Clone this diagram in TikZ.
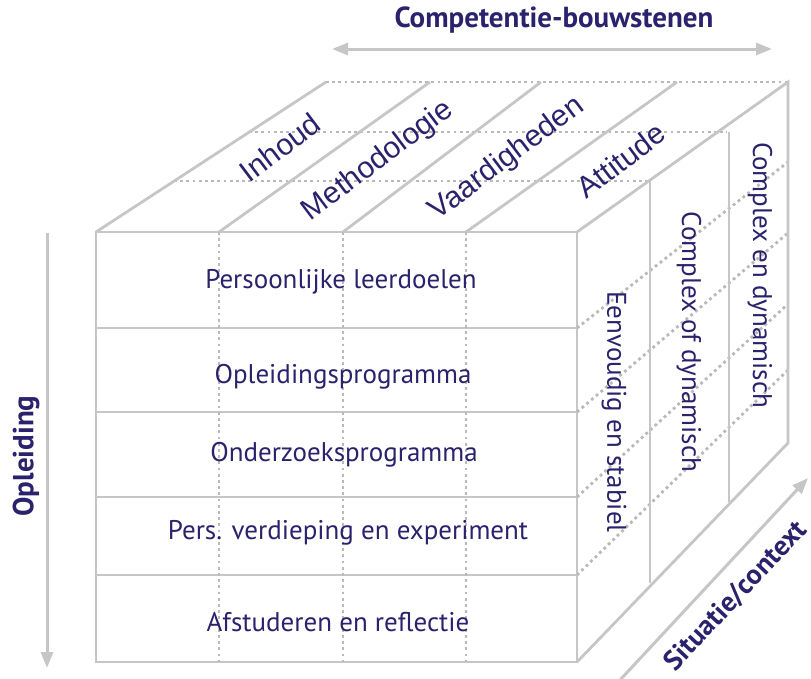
\documentclass[tikz,border=0pt]{standalone}
\usepackage{fontspec}
\setmainfont{PT Sans}
\newfontfamily\facetfont{Liberation Sans}
\usetikzlibrary{arrows.meta}
\definecolor{ink}{RGB}{42,34,108}
\definecolor{rimgray}{RGB}{198,198,198}
\definecolor{dotgray}{RGB}{185,185,185}

\begin{document}
\begin{tikzpicture}[x=1pt, y=-1pt,
    rim/.style={draw=rimgray, line width=2.8pt, line join=miter},
    dots/.style={draw=dotgray, line width=2.8pt, dash pattern=on 2.8pt off 3.4pt},
    rowlabel/.style={font=\fontsize{27}{32}\selectfont, text=ink, inner sep=1pt},
    sidelabel/.style={rowlabel, rotate=-90},
    facet/.style={font=\facetfont\fontsize{30}{34}\selectfont, text=ink, rotate=37, inner sep=1pt},
    axis/.style={font=\bfseries\fontsize{29}{34}\selectfont, text=ink, inner sep=1pt},
    arr/.style={draw=rimgray, line width=3pt, -{Triangle[length=16pt, width=12pt]}}
  ]
  \useasboundingbox (0,0) rectangle (811,678);

  % front face
  \draw[rim] (96,232) rectangle (577,662);
  \foreach \y in {328,412,497,575}
    \draw[rim] (96,\y) -- (577,\y);
  \foreach \x in {219,343,466}
    \draw[dots] (\x,232) -- (\x,662);

  % top face
  \draw[dots] (326,82) -- (788,82);
  \draw[dots] (249,132) -- (727,132);
  \draw[dots] (174,181) -- (650,181);
  \draw[rim] (96,232) -- (326,82);
  \draw[rim] (219,232) -- (430,82);
  \draw[rim] (343,232) -- (541,82);
  \draw[rim] (466,232) -- (677,82);

  % right face
  \foreach \yf/\yb in {328/162,412/233,497/304,575/370}
    \draw[dots] (577,\yf) -- (788,\yb);
  \draw[rim] (650,181) -- (650,583);
  \draw[rim] (729,132) -- (729,502);
  \draw[rim] (577,232) -- (788,82) -- (788,443) -- (577,662);

  % axes
  \coordinate (comp-w) at (332,49);
  \coordinate (comp-e) at (772,49);
  \coordinate (opl-n) at (47,233);
  \coordinate (opl-s) at (47,668);
  \coordinate (sit-sw) at (620,680);
  \coordinate (sit-ne) at (808,478);
  \draw[arr, {Triangle[length=16pt, width=12pt]}-{Triangle[length=16pt, width=12pt]}] (comp-w) -- (comp-e);
  \draw[arr] (opl-n) -- (opl-s);
  \draw[arr] (sit-sw) -- (sit-ne);

  \node[axis] (comp) at (554,20) {Competentie-bouwstenen};
  \node[axis, rotate=90] (opl) at (26,456) {Opleiding};
  \node[axis, rotate=46.8, font=\bfseries\fontsize{28}{32}\selectfont] (sit) at (736,596) {Situatie/context};

  % top labels
  \node[facet] (inhoud) at (280,147) {Inhoud};
  \node[facet] (meth) at (378,161) {Methodologie};
  \node[facet] (vaard) at (507,159) {Vaardigheden};
  \node[facet] (att) at (621,160) {Attitude};

  % rows
  \node[rowlabel] (pers) at (341,282) {Persoonlijke leerdoelen};
  \node[rowlabel] (oplprog) at (343,377) {Opleidingsprogramma};
  \node[rowlabel] (ondprog) at (344,455) {Onderzoeksprogramma};
  \node[rowlabel] (verd) at (348,533) {Pers. verdieping en experiment};
  \node[rowlabel] (afst) at (338,622) {Afstuderen en reflectie};

  % context
  \node[sidelabel] (eenv) at (614,412) {Eenvoudig en stabiel};
  \node[sidelabel] (cofd) at (689,342) {Complex of dynamisch};
  \node[sidelabel] (cend) at (760,275) {Complex en dynamisch};
\end{tikzpicture}
\end{document}
